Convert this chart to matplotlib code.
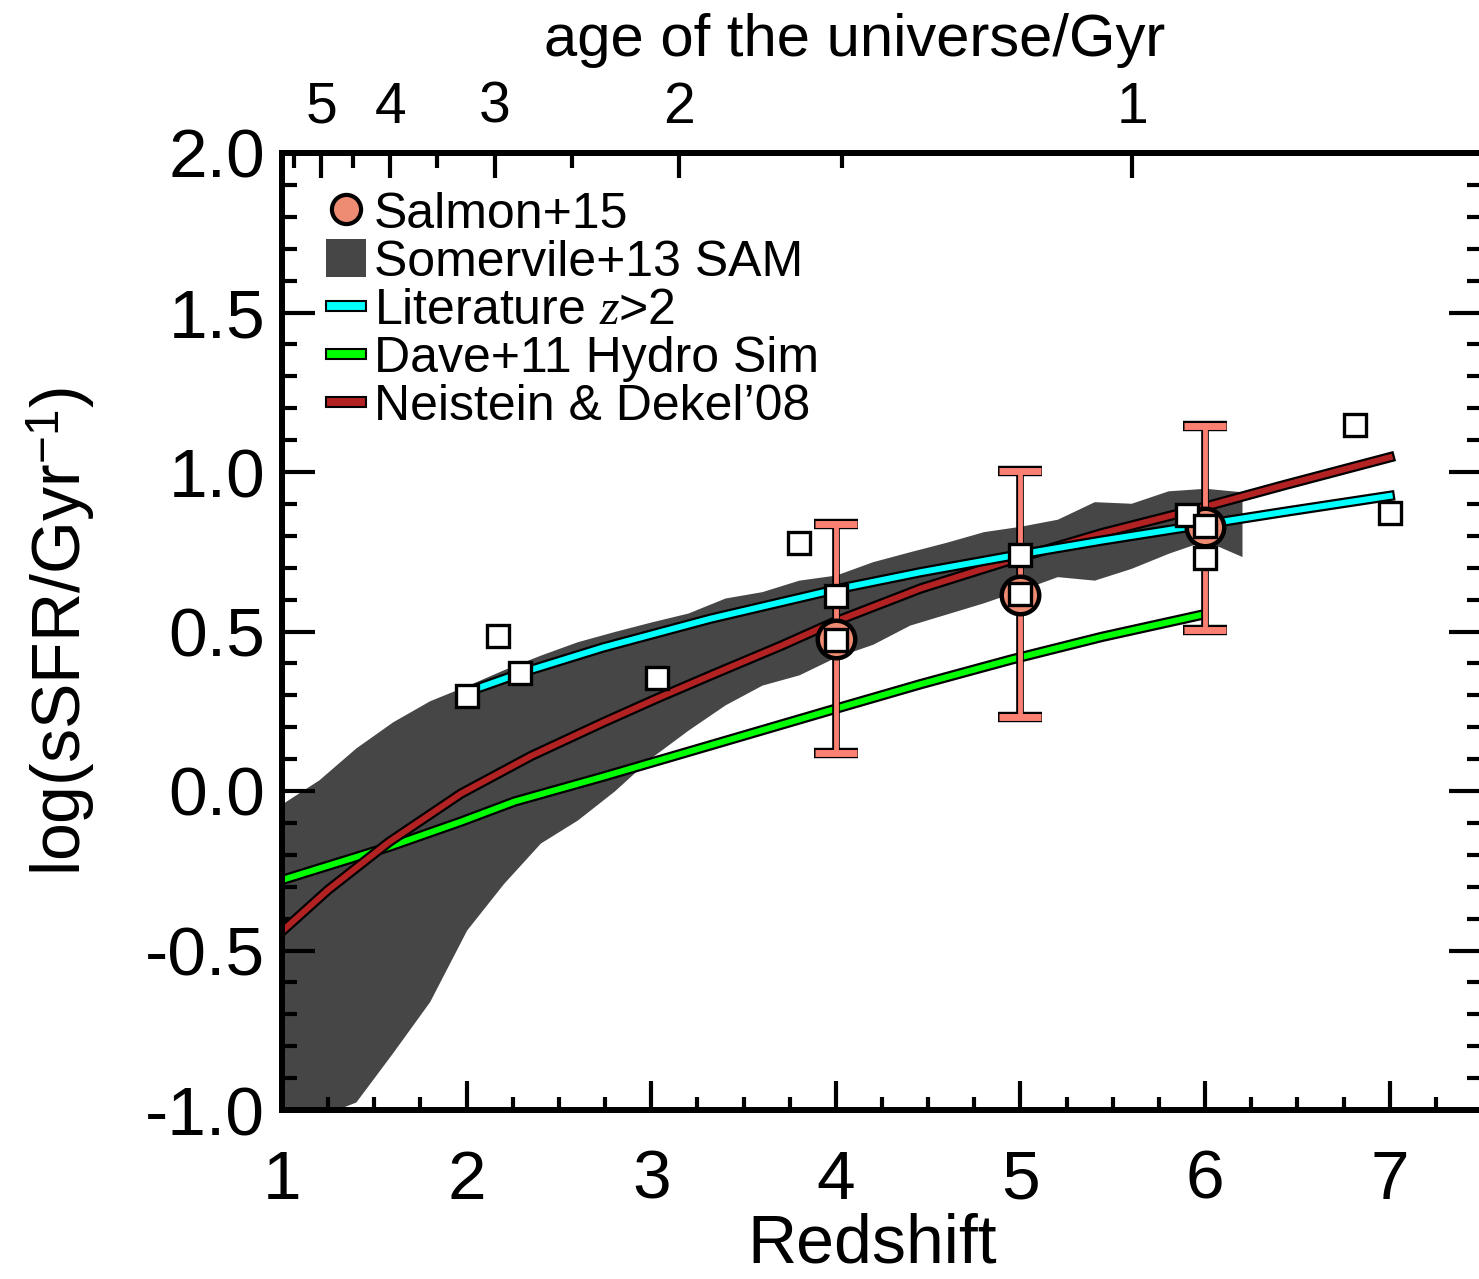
import numpy as np
import matplotlib
matplotlib.use('Agg')
import matplotlib.pyplot as plt
import matplotlib.patheffects as pe
from matplotlib.lines import Line2D
from matplotlib.patches import Patch, Rectangle
from matplotlib.legend_handler import HandlerPatch
from matplotlib.ticker import MultipleLocator, FixedLocator

plt.rcParams['font.family'] = ['Liberation Sans', 'DejaVu Sans']
plt.rcParams['mathtext.fontset'] = 'custom'
plt.rcParams['mathtext.rm'] = 'Liberation Sans'
plt.rcParams['mathtext.it'] = 'Liberation Serif:italic'
plt.rcParams['axes.unicode_minus'] = False

# Somerville+13 SAM band
sam_z = [1.0, 1.2, 1.4, 1.6, 1.8, 2.0, 2.2, 2.4, 2.6, 2.8, 3.0, 3.2, 3.4, 3.6,
         3.8, 4.0, 4.2, 4.4, 4.6, 4.8, 5.0, 5.2, 5.4, 5.6, 5.8, 6.0, 6.2]
sam_hi = [-0.04, 0.035, 0.135, 0.217, 0.283, 0.33, 0.38, 0.426, 0.468, 0.5, 0.53,
          0.558, 0.605, 0.625, 0.661, 0.677, 0.719, 0.75, 0.78, 0.813, 0.83, 0.852,
          0.907, 0.902, 0.941, 0.949, 0.938]
sam_lo = [-1.1, -1.02, -0.975, -0.82, -0.66, -0.436, -0.29, -0.163, -0.091, 0.0,
          0.105, 0.191, 0.27, 0.332, 0.364, 0.42, 0.46, 0.52, 0.555, 0.59, 0.63,
          0.672, 0.661, 0.698, 0.745, 0.785, 0.735]

# Literature z>2
lit_z = [2.0, 2.31, 2.74, 3.32, 4.0, 4.46, 4.95, 5.44, 5.935, 6.43, 7.0]
lit_ssfr = [0.31, 0.373, 0.45, 0.54, 0.632, 0.686, 0.737, 0.785, 0.83, 0.875, 0.925]

# Dave+11 hydro sim
dave_z = [1.0, 1.58, 1.97, 2.26, 2.74, 3.32, 4.0, 4.46, 4.95, 5.44, 5.98]
dave_ssfr = [-0.279, -0.175, -0.096, -0.033, 0.045, 0.143, 0.258, 0.335, 0.412, 0.483, 0.552]

# Neistein & Dekel'08
nd_z = [1.0, 1.25, 1.58, 1.97, 2.35, 2.74, 3.03, 3.32, 3.71, 4.0, 4.46, 4.95,
        5.44, 5.935, 6.43, 7.0]
nd_ssfr = [-0.44, -0.31, -0.16, -0.008, 0.11, 0.215, 0.29, 0.362, 0.457, 0.532,
           0.635, 0.724, 0.808, 0.881, 0.959, 1.046]

# Salmon+15
salmon_z = [4.0, 5.0, 6.0]
salmon_ssfr = [0.475, 0.615, 0.828]
salmon_lo = [0.119, 0.232, 0.505]
salmon_hi = [0.837, 1.003, 1.145]

# literature points (open squares)
obs_z = [2.0, 2.17, 2.29, 3.03, 3.8, 4.0, 4.0, 5.0, 5.0, 5.9, 6.0, 6.0, 6.81, 7.0]
obs_ssfr = [0.297, 0.486, 0.37, 0.354, 0.777, 0.61, 0.473, 0.74, 0.617, 0.865,
            0.83, 0.73, 1.147, 0.87]

age_major = [5, 4, 3, 2, 1]
age_minor = [5.5, 4.5, 3.5, 2.5, 1.5]


def age_gyr(z, h0=70.0, om=0.3):
    ol = 1.0 - om
    th = 977.8 / h0
    return 2.0 / (3.0 * np.sqrt(ol)) * th * np.arcsinh(np.sqrt(ol / om) * (1 + z) ** -1.5)


def z_of_age(t):
    zz = np.linspace(0.5, 12, 4000)
    aa = age_gyr(zz)
    return np.interp(t, aa[::-1], zz[::-1])


salmon_face = '#EE8B73'
salmon_bar = '#FA8072'

fig = plt.figure(figsize=(14.79, 12.79), dpi=100)
ax = fig.add_axes([282 / 1479, 169 / 1279, 1200 / 1479, 957 / 1279])

ax.fill_between(sam_z, sam_lo, sam_hi, color='#464646', lw=0, zorder=1)

outline = [pe.Stroke(linewidth=7.5, foreground='k'), pe.Normal()]
ax.plot(dave_z, dave_ssfr, color='#00FF00', lw=4.3, path_effects=outline, zorder=2)
ax.plot(nd_z, nd_ssfr, color='#B22222', lw=4.3, path_effects=outline, zorder=3)
ax.plot(lit_z, lit_ssfr, color='#00FFFF', lw=4.3, path_effects=outline, zorder=4)

yerr = [np.subtract(salmon_ssfr, salmon_lo), np.subtract(salmon_hi, salmon_ssfr)]
ax.errorbar(salmon_z, salmon_ssfr, yerr=yerr, fmt='none', ecolor='k',
            elinewidth=5.5, capsize=16, capthick=7.5, zorder=5)
ax.errorbar(salmon_z, salmon_ssfr, yerr=yerr, fmt='none', ecolor=salmon_bar,
            elinewidth=3.5, capsize=15, capthick=5, zorder=6)
ax.plot(salmon_z, salmon_ssfr, ls='none', marker='o', ms=27, mfc=salmon_face,
        mec='k', mew=3.2, zorder=7)
ax.plot(obs_z, obs_ssfr, ls='none', marker='s', ms=15.5, mfc='white', mec='k',
        mew=2.4, zorder=8)

ax.set_xlim(1, 7.5)
ax.set_ylim(-1.0, 2.0)
ax.xaxis.set_major_locator(MultipleLocator(1))
ax.xaxis.set_minor_locator(MultipleLocator(0.25))
ax.yaxis.set_major_locator(MultipleLocator(0.5))
ax.yaxis.set_minor_locator(MultipleLocator(0.1))
ax.yaxis.set_major_formatter(lambda v, p: f'{v:.1f}')

for s in ax.spines.values():
    s.set_linewidth(4.3)
ax.tick_params(axis='x', which='both', direction='in', top=False, bottom=True,
               width=3, labelsize=50, pad=28)
ax.tick_params(axis='x', which='major', length=21)
ax.tick_params(axis='x', which='minor', length=9.5)
ax.tick_params(axis='y', which='both', direction='in', left=True, right=True,
               width=3, labelsize=50, pad=12)
ax.tick_params(axis='y', which='major', length=24)
ax.tick_params(axis='y', which='minor', length=11)

ax.set_xlabel('Redshift', fontsize=49)
ax.xaxis.set_label_coords(0.4917, -0.107)
ax.set_ylabel('log(sSFR/Gyr$^{-1}$)', fontsize=49)
ax.yaxis.set_label_coords(-0.154, 0.5)

ax2 = ax.twiny()
ax2.set_xlim(ax.get_xlim())
ax2.set_xticks(z_of_age(np.array(age_major)), [str(a) for a in age_major])
ax2.xaxis.set_minor_locator(FixedLocator(z_of_age(np.array(age_minor))))
for s in ax2.spines.values():
    s.set_linewidth(4.3)
ax2.tick_params(axis='x', which='both', direction='in', top=True, bottom=False,
                width=3, labelsize=41, pad=13)
ax2.tick_params(axis='x', which='major', length=18)
ax2.tick_params(axis='x', which='minor', length=11)
ax2.set_xlabel('age of the universe/Gyr', fontsize=43)
ax2.xaxis.set_label_coords(0.4775, 1.101)


def thin_bar(legend, orig_handle, xdescent, ydescent, width, height, fontsize):
    h = 0.25 * height
    return Rectangle((-xdescent, -ydescent + height / 2 - h / 2), width, h)


handles = [
    Line2D([], [], ls='none', marker='o', ms=21, mfc=salmon_face, mec='k', mew=3),
    Patch(facecolor='#464646', edgecolor='none'),
    Patch(facecolor='#00FFFF', edgecolor='k', lw=1.5),
    Patch(facecolor='#00FF00', edgecolor='k', lw=1.5),
    Patch(facecolor='#B22222', edgecolor='k', lw=1.5),
]
labels = ['Salmon+15', 'Somervile+13 SAM', 'Literature $z$>2',
          'Dave+11 Hydro Sim', "Neistein & Dekel\u201908"]
bar = HandlerPatch(patch_func=thin_bar)
leg = ax.legend(handles, labels, loc='upper left',
                bbox_to_anchor=(326 / 1479, 1 - 191 / 1279),
                bbox_transform=fig.transFigure, frameon=False, fontsize=36,
                handlelength=0.8, handleheight=0.8, handletextpad=0.16,
                labelspacing=0.03, borderpad=0, borderaxespad=0,
                handler_map={handles[2]: bar, handles[3]: bar, handles[4]: bar})

fig.savefig('out.png', dpi=100)
